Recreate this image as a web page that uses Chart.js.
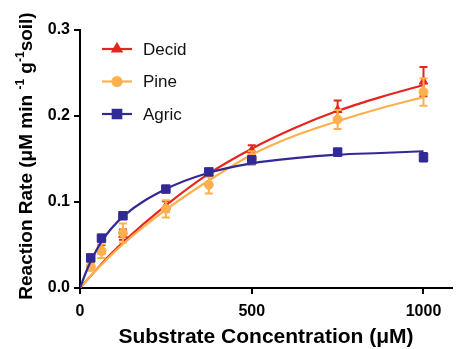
<!DOCTYPE html>
<html>
<head>
<meta charset="utf-8">
<script src="https://cdn.jsdelivr.net/npm/chart.js@4.4.1/dist/chart.umd.min.js"></script>
<style>body{margin:0;background:#fff}</style>
</head>
<body>
<canvas id="chart" width="459" height="349"></canvas>
<script>
// measured points (substrate in uM, rate in uM min-1 g-1 soil)
var seriesNames = ["Decid", "Pine", "Agric"];
var substrate = [31.25, 62.5, 125, 250, 375, 500, 750, 1000];
var decidRate = [0.027, 0.045, 0.062, 0.095, 0.134, 0.160, 0.207, 0.240];
var decidErr = [0.004, 0.005, 0.006, 0.006, 0.004, 0.006, 0.011, 0.017];
var pineRate = [0.025, 0.043, 0.064, 0.092, 0.120, 0.151, 0.196, 0.228];
var pineErr = [0.005, 0.008, 0.011, 0.010, 0.010, 0.008, 0.011, 0.016];
var agricRate = [0.035, 0.058, 0.084, 0.115, 0.135, 0.149, 0.158, 0.152];
var agricErr = [0.002, 0.002, 0.002, 0.002, 0.003, 0.002, 0.004, 0.005];

// fitted curves
var fitX = [0, 15, 31.25, 62.5, 125, 250, 375, 500, 625, 750, 875, 1000];
var decidFit = [0, 0.007, 0.014, 0.028, 0.053, 0.096, 0.133, 0.162, 0.186, 0.206, 0.222, 0.236];
var pineFit = [0, 0.0068, 0.014, 0.027, 0.051, 0.091, 0.125, 0.155, 0.177, 0.194, 0.209, 0.222];
var agricFit = [0, 0.016, 0.031, 0.054, 0.083, 0.115, 0.134, 0.145, 0.151, 0.155, 0.157, 0.159];

var xTicks = [0, 500, 1000];
var yTicks = [0, 0.1, 0.2, 0.3];

var colors = ["#E4261E", "#FDB04C", "#322A94"];
var styles = ["triangle", "circle", "rect"];
var radii = [5, 4.5, 6];
var rates = [decidRate, pineRate, agricRate];
var errs = [decidErr, pineErr, agricErr];
var fits = [decidFit, pineFit, agricFit];

var FONT = "Arial, 'Liberation Sans', sans-serif";

function pts(xs, ys) {
    return xs.map(function (x, i) { return {x: x, y: ys[i]}; });
}

var datasets = [];
seriesNames.forEach(function (name, i) {
    datasets.push({
        label: name + " fit",
        data: pts(fitX, fits[i]),
        showLine: true,
        cubicInterpolationMode: "monotone",
        borderColor: colors[i],
        borderWidth: 2.2,
        pointRadius: 0,
        order: 6 - i * 2
    });
    datasets.push({
        label: name,
        data: pts(substrate, rates[i]),
        showLine: false,
        err: errs[i],
        pointStyle: styles[i],
        pointRadius: radii[i],
        backgroundColor: colors[i],
        borderColor: colors[i],
        borderWidth: 1,
        order: 5 - i * 2
    });
});

//error bars under each point set
var errorBars = {
    id: "errorBars",
    beforeDatasetDraw: function (chart, args) {
        var ds = chart.data.datasets[args.index];
        if (!ds.err) return;
        var ctx = chart.ctx, y = chart.scales.y;
        ctx.save();
        ctx.strokeStyle = ds.borderColor;
        ctx.lineWidth = 2;
        args.meta.data.forEach(function (pt, j) {
            var v = ds.data[j].y, e = ds.err[j];
            var top = y.getPixelForValue(v + e), bot = y.getPixelForValue(v - e);
            ctx.beginPath();
            ctx.moveTo(pt.x, top); ctx.lineTo(pt.x, bot);
            ctx.moveTo(pt.x - 4, top); ctx.lineTo(pt.x + 4, top);
            ctx.moveTo(pt.x - 4, bot); ctx.lineTo(pt.x + 4, bot);
            ctx.stroke();
        });
        ctx.restore();
    }
};

//legend with line + marker, and the y title with superscripts
var extras = {
    id: "extras",
    afterDraw: function (chart) {
        var ctx = chart.ctx;
        ctx.save();
        seriesNames.forEach(function (name, i) {
            var ly = 49 + i * 32.5;
            ctx.strokeStyle = colors[i];
            ctx.lineWidth = 2.2;
            ctx.beginPath();
            ctx.moveTo(102, ly); ctx.lineTo(132, ly);
            ctx.stroke();
            ctx.fillStyle = colors[i];
            Chart.helpers.drawPoint(ctx, {pointStyle: styles[i], radius: radii[i], borderWidth: 1}, 117, ly);
            ctx.fillStyle = "#111";
            ctx.font = "17px " + FONT;
            ctx.textBaseline = "middle";
            ctx.textAlign = "left";
            ctx.fillText(name, 143, ly + 1);
        });

        var parts = [
            ["Reaction Rate (\u03bcM min ", false],
            ["-1", true],
            [" g", false],
            ["-1", true],
            ["soil)", false]
        ];
        var big = "bold 19px " + FONT, small = "bold 12px " + FONT;
        var total = 0;
        parts.forEach(function (p) {
            ctx.font = p[1] ? small : big;
            total += ctx.measureText(p[0]).width;
        });
        ctx.translate(32, 156);
        ctx.rotate(-Math.PI / 2);
        ctx.fillStyle = "#000";
        ctx.textBaseline = "alphabetic";
        var x = -total / 2;
        parts.forEach(function (p) {
            ctx.font = p[1] ? small : big;
            ctx.fillText(p[0], x, p[1] ? -8 : 0);
            x += ctx.measureText(p[0]).width;
        });
        ctx.restore();
    }
};

new Chart(document.getElementById("chart"), {
    type: "scatter",
    data: {datasets: datasets},
    options: {
        responsive: false,
        animation: false,
        events: [],
        layout: {padding: {top: 30, left: 0, right: 0, bottom: 0}},
        plugins: {legend: {display: false}, tooltip: {enabled: false}},
        scales: {
            x: {
                type: "linear",
                position: "bottom",
                min: 0,
                max: 1083,
                afterBuildTicks: function (s) { s.ticks = xTicks.map(function (v) { return {value: v}; }); },
                afterFit: function (s) { s.height = 61; },
                grid: {drawOnChartArea: false, color: "#000", lineWidth: 2, tickLength: 6},
                border: {color: "#000", width: 2},
                ticks: {
                    color: "#000",
                    padding: 8,
                    maxRotation: 0,
                    font: {family: FONT, size: 16, weight: "bold"},
                    callback: function (v) { return String(v); }
                },
                title: {
                    display: true,
                    text: "Substrate Concentration (\u03bcM)",
                    color: "#000",
                    padding: 0,
                    font: {family: FONT, size: 21, weight: "bold", lineHeight: 1.1}
                }
            },
            y: {
                type: "linear",
                min: 0,
                max: 0.3,
                afterBuildTicks: function (s) { s.ticks = yTicks.map(function (v) { return {value: v}; }); },
                afterFit: function (s) { s.width = 80; },
                grid: {drawOnChartArea: false, color: "#000", lineWidth: 2, tickLength: 6},
                border: {color: "#000", width: 2},
                ticks: {
                    color: "#000",
                    padding: 4,
                    font: {family: FONT, size: 16, weight: "bold"},
                    callback: function (v) { return v.toFixed(1); }
                }
            }
        }
    },
    plugins: [errorBars, extras]
});
</script>
</body>
</html>
